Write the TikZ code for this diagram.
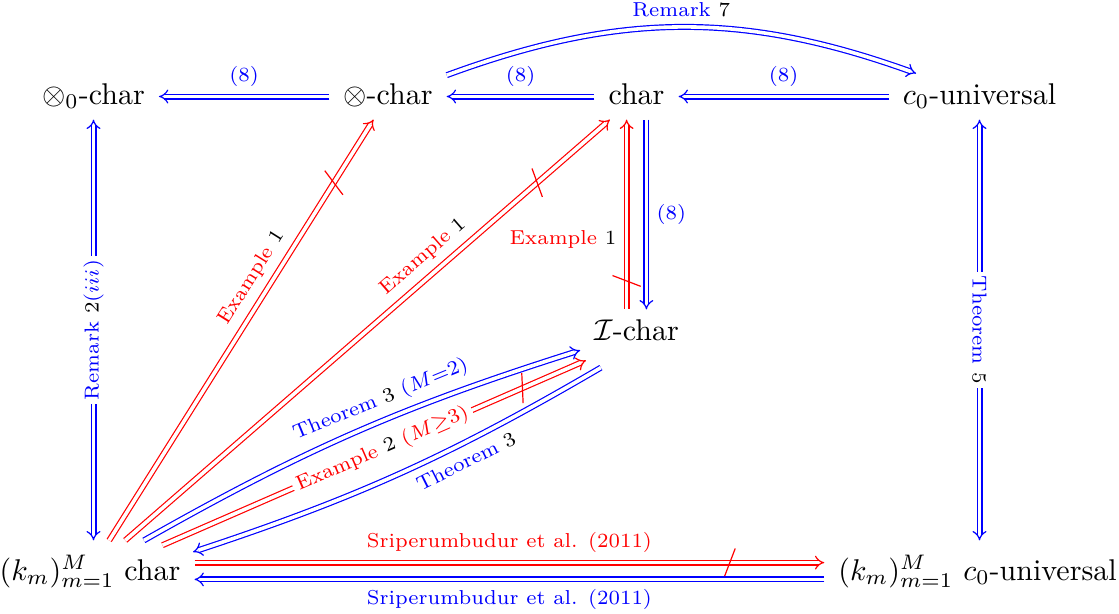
\documentclass[tikz,border=0pt]{standalone}
\usetikzlibrary{arrows.meta,decorations.markings,calc}
\begin{document}
\begin{tikzpicture}[x=0.33333pt,y=0.33333pt,
  obj/.style={anchor=base, inner xsep=4.5pt, inner ysep=3pt, text height=7pt, text depth=2pt},
  objb/.style={anchor=base, inner xsep=4.5pt, inner ysep=4pt, text height=9pt, text depth=3pt},
  dbl/.style={double, double distance=1.2pt, line width=0.4pt},
  imp/.style={dbl, -{Implies}},
  impb/.style={dbl, {Implies}-{Implies}},
  impl/.style={dbl, {Implies}-},
  lab/.style={font=\scriptsize, text=black, scale=0.96},
  desc/.style={font=\scriptsize, text=black, scale=0.96, fill=white, inner sep=1.5pt},
  negated/.style={postaction={decorate, decoration={markings, mark=at position 0.85 with {\pgfsetarrows{-}\pgfsetlinewidth{0.4pt}\pgfsetstrokecolor{red}\pgfpathmoveto{\pgfpoint{-1.8pt}{-4.7pt}}\pgfpathlineto{\pgfpoint{1.8pt}{4.7pt}}\pgfusepath{stroke}}}}},
]
\useasboundingbox (0,0) rectangle (1119,613);
\node[obj] (o0) at (93.5,509) {$\otimes_0$-char};
\node[obj] (o) at (388,509) {$\otimes$-char};
\node[obj] (ch) at (636.5,509) {char};
\node[obj] (c0) at (979.5,509) {$c_0$-universal};
\node[obj] (ic) at (636.5,273) {$\mathcal{I}$-char};
\node[objb] (kc) at (90,33) {$(k_m)_{m=1}^M$ char};
\node[objb] (kc0) at (977.5,33) {$(k_m)_{m=1}^M$ $c_0$-universal};

% top row
\draw[imp, blue] (o) -- node[lab, above]{\textcolor{blue}{(8)}} (o0);
\draw[imp, blue] (ch) -- node[lab, above]{\textcolor{blue}{(8)}} (o);
\draw[imp, blue] (c0) -- node[lab, above]{\textcolor{blue}{(8)}} (ch);
\draw[imp, blue] (o) to[bend left=20] node[lab, above]{\textcolor{blue}{Remark} 7} (c0);

% verticals
\draw[impb, blue] (o0.south) -- node[desc, rotate=90]{\textcolor{blue}{Remark} 2\textcolor{blue}{$(iii)$}} (o0.south |- kc.north);
\draw[impb, blue] (c0.south) -- node[desc, rotate=-90]{\textcolor{blue}{Theorem} 5} (c0.south |- kc0.north);

% red diagonals
\draw[imp, red, negated] (kc) -- node[lab, pos=0.6, above, sloped]{\textcolor{red}{Example} 1} (o);
\draw[imp, red, negated] (kc) -- node[lab, pos=0.64, above, sloped]{\textcolor{red}{Example} 1} (ch);

% char <-> I-char
\draw[impl, red, negated] ([xshift=-3.3pt]ch.south) -- node[lab, pos=0.63, left]{\textcolor{red}{Example} 1} ([xshift=-3.3pt]ic.north);
\draw[imp, blue] ([xshift=3.3pt]ch.south) -- node[lab, right]{\textcolor{blue}{(8)}} ([xshift=3.3pt]ic.north);

% kchar <-> I-char
\draw[imp, red, negated, transform canvas={shift={(0.8pt,-1.6pt)}}] (kc) -- node[desc, sloped, pos=0.52]{\textcolor{red}{Example} 2 \textcolor{red}{$(M{\geq}3)$}} (ic);
\draw[imp, blue] (kc) to[bend left=6] node[lab, above, sloped, pos=0.58]{\textcolor{blue}{Theorem} 3 \textcolor{blue}{$(M{=}2)$}} (ic);
\draw[imp, blue, shorten >=0.5pt, transform canvas={shift={(1.7pt,-4pt)}}] (ic) to[bend left=6] node[lab, below, sloped, pos=0.35]{\textcolor{blue}{Theorem} 3} (kc);

% bottom row
\draw[imp, red, negated] ([yshift=2.8pt]kc.east) -- node[lab, above]{\textcolor{red}{Sriperumbudur et al. (2011)}} ([yshift=2.8pt]kc0.west);
\draw[imp, blue] ([yshift=-2.8pt]kc0.west) -- node[lab, below]{\textcolor{blue}{Sriperumbudur et al. (2011)}} ([yshift=-2.8pt]kc.east);
\end{tikzpicture}
\end{document}
